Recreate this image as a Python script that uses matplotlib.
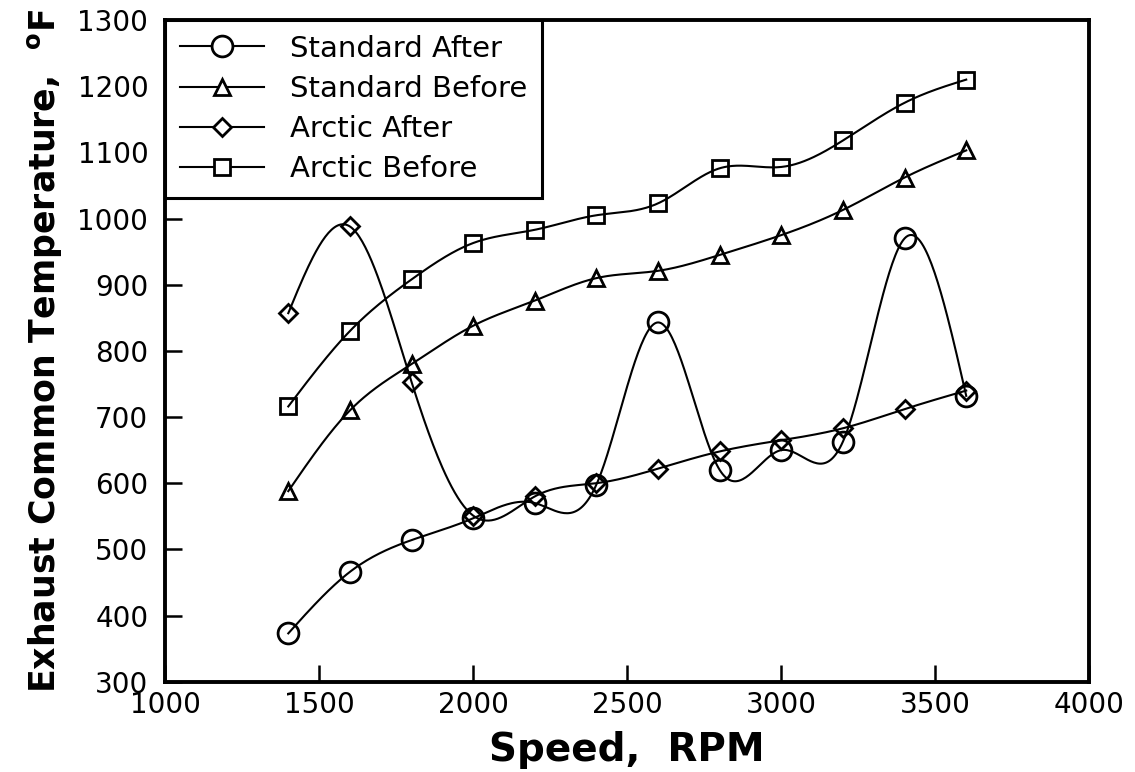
import numpy as np
import matplotlib
matplotlib.use("Agg")
import matplotlib.pyplot as plt
from matplotlib.lines import Line2D

speed = [1400, 1600, 1800, 2000, 2200, 2400, 2600, 2800, 3000, 3200, 3400, 3600]
standard_after = [373, 466, 514, 547, 570, 598, 843, 620, 650, 663, 970, 732]
standard_before = [588, 710, 780, 838, 876, 910, 921, 945, 975, 1013, 1062, 1103]
arctic_after = [857, 988, 753, 551, 580, 600, 622, 648, 665, 683, 712, 740]
arctic_before = [716, 830, 908, 963, 983, 1005, 1023, 1076, 1078, 1118, 1175, 1210]

labels = ["Standard After", "Standard Before", "Arctic After", "Arctic Before"]
series = [standard_after, standard_before, arctic_after, arctic_before]
markers = ["o", "^", "D", "s"]
msizes = [15, 12, 9, 12]


def natural_spline(x, y, n=40):
    x = np.asarray(x, float)
    y = np.asarray(y, float)
    m = len(x)
    h = np.diff(x)
    A = np.zeros((m, m))
    b = np.zeros(m)
    A[0, 0] = 1
    A[-1, -1] = 1
    for i in range(1, m - 1):
        A[i, i - 1] = h[i - 1]
        A[i, i] = 2 * (h[i - 1] + h[i])
        A[i, i + 1] = h[i]
        b[i] = 3 * ((y[i + 1] - y[i]) / h[i] - (y[i] - y[i - 1]) / h[i - 1])
    c = np.linalg.solve(A, b)
    xs, ys = [], []
    for i in range(m - 1):
        bb = (y[i + 1] - y[i]) / h[i] - h[i] * (2 * c[i] + c[i + 1]) / 3
        d = (c[i + 1] - c[i]) / (3 * h[i])
        t = np.linspace(0, h[i], n, endpoint=(i == m - 2))
        xs.append(x[i] + t)
        ys.append(y[i] + bb * t + c[i] * t ** 2 + d * t ** 3)
    return np.concatenate(xs), np.concatenate(ys)


plt.rcParams['font.family'] = ['DejaVu Sans']
fig = plt.figure(figsize=(11.35, 7.72), dpi=100)
ax = fig.add_axes([0.1454, 0.117, 0.8145, 0.857])

handles = []
for yv, lab, mk, ms in zip(series, labels, markers, msizes):
    xs, ys = natural_spline(speed, yv)
    ax.plot(xs, ys, color='black', lw=1.5, zorder=2)
    ax.plot(speed, yv, linestyle='none', marker=mk, ms=ms, mfc='none',
            mec='black', mew=2.0, zorder=3)
    handles.append(Line2D([], [], color='black', lw=1.5, marker=mk, ms=ms,
                          mfc='white', mec='black', mew=2.0))

ax.set_xlim(1000, 4000)
ax.set_ylim(300, 1300)
ax.set_xticks([1000, 1500, 2000, 2500, 3000, 3500, 4000])
ax.set_yticks(range(300, 1301, 100))
ax.tick_params(axis='both', direction='in', length=12, width=1.8,
               labelsize=20, top=False, right=False)
ax.tick_params(axis='y', pad=12)
ax.tick_params(axis='x', pad=7)
for s in ax.spines.values():
    s.set_linewidth(2.8)

ax.set_xlabel("Speed,  RPM", fontsize=28, fontweight='bold', labelpad=8)
ax.set_ylabel(r"Exhaust Common Temperature,  $^{\mathbf{o}}$F",
              fontsize=25, fontweight='bold', labelpad=10)

leg = ax.legend(handles, labels, loc='upper left', fontsize=21,
                frameon=True, fancybox=False, borderaxespad=0,
                handlelength=2.9, handletextpad=0.9, labelspacing=0.42,
                borderpad=0.5, framealpha=1)
leg.get_frame().set_edgecolor('black')
leg.get_frame().set_linewidth(2.2)

fig.savefig("out.png", dpi=100)
